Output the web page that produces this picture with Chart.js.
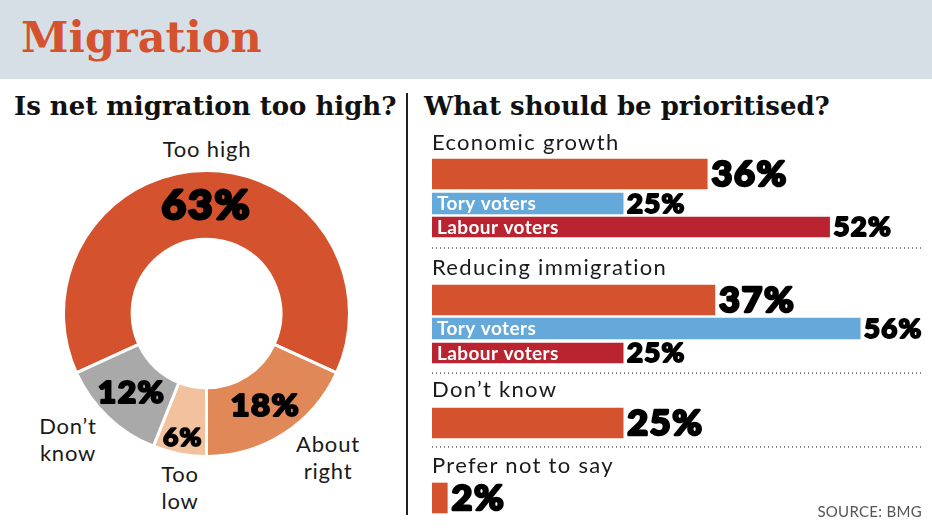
<!DOCTYPE html>
<html><head><meta charset="utf-8">
<script src="https://cdn.jsdelivr.net/npm/chart.js@4"></script>
<style>
html,body{margin:0;padding:0;background:#fff;}
#root{position:relative;width:932px;height:530px;overflow:hidden;font-family:Lato,"Open Sans",sans-serif;color:#111;}
.banner{position:absolute;left:0;top:0;width:932px;height:79px;background:#d6dfe6;}
.title{position:absolute;left:21px;top:16px;font-family:"DejaVu Serif",serif;font-weight:bold;font-size:43px;line-height:43px;color:#d4532e;white-space:nowrap;}
.sub{position:absolute;top:93px;font-family:"DejaVu Serif",serif;font-weight:bold;font-size:26px;line-height:26px;color:#111;white-space:nowrap;}
.divider{position:absolute;left:406px;top:93px;width:2px;height:422px;background:#222;}
.cat{position:absolute;left:432px;font-size:22px;line-height:22px;white-space:nowrap;letter-spacing:1.3px;color:#1a1a1a;}
.dots{position:absolute;left:432px;width:490px;height:2px;background-image:repeating-linear-gradient(to right,#888 0 1.5px,transparent 1.5px 4px);}
.dl{position:absolute;width:140px;text-align:center;font-size:22px;line-height:27px;letter-spacing:0.8px;color:#1a1a1a;}
.src{position:absolute;right:10px;top:504px;font-size:15px;line-height:15px;color:#555;letter-spacing:0.3px;}
#donut{position:absolute;left:62px;top:169px;}
#bars{position:absolute;left:410px;top:120px;}
</style></head>
<body>
<div id="root">
  <div class="banner"></div>
  <div class="title">Migration</div>
  <div class="sub" style="left:14px">Is net migration too high?</div>
  <div class="sub" style="left:424px">What should be prioritised?</div>
  <div class="divider"></div>

  <div class="dl" style="left:137px;top:135px;">Too high</div>
  <div class="dl" style="left:-2px;top:412px;">Don’t<br>know</div>
  <div class="dl" style="left:110px;top:460px;">Too<br>low</div>
  <div class="dl" style="left:258px;top:430px;">About<br>right</div>

  <canvas id="donut" width="289" height="289"></canvas>
  <canvas id="bars" width="522" height="400"></canvas>

  <div class="cat" style="top:131px">Economic growth</div>
  <div class="dots" style="top:247px"></div>
  <div class="cat" style="top:256px">Reducing immigration</div>
  <div class="dots" style="top:372px"></div>
  <div class="cat" style="top:378px">Don’t know</div>
  <div class="dots" style="top:446px"></div>
  <div class="cat" style="top:454px">Prefer not to say</div>
  <div class="src">SOURCE: BMG</div>
</div>
<script>
// ---- Data ----
const donutLabels = ['Too high', 'About right', 'Too low', "Don't know"];
const donutValues = [63, 18, 6, 12];

const priorityCategories = ['Economic growth', 'Reducing immigration', "Don't know", 'Prefer not to say'];
const allVoters = [36, 37, 25, 2];
const toryVoters = [25, 56, null, null];
const labourVoters = [52, 25, null, null];

// ---- Styles / layout ----
const donutColors = ['#d4532e', '#e08858', '#f2c29f', '#a9a9a9'];
const donutLabelSize = [40, 31, 25, 30];
const donutLabelRadial = [0.5, 0.5, 0.75, 0.5];
const HEAVY = 'Lato, Roboto, sans-serif';
const HEAVY_STRETCH = 1.06;
const CAP = 0.7165;

// vertical slot positions (row units on the hidden y scale)
const rowPos = {
  all:    [54, 180, 303, 378],
  tory:   [83.5, 208.5, null, null],
  labour: [107, 233, null, null]
};

Chart.defaults.animation = false;

function heavyText(ctx, text, x, y, fs, align) {
  ctx.save();
  ctx.font = `900 ${fs}px ${HEAVY}`;
  ctx.letterSpacing = (fs * 0.045).toFixed(1) + 'px';
  ctx.fillStyle = '#000';
  ctx.strokeStyle = '#000';
  ctx.lineJoin = 'round';
  ctx.lineWidth = fs * 0.07;
  ctx.textBaseline = 'alphabetic';
  ctx.textAlign = 'left';
  const w = ctx.measureText(text).width * HEAVY_STRETCH;
  const left = align === 'center' ? x - w / 2 : x + ctx.lineWidth / 2;
  ctx.translate(left, y + fs * CAP / 2);
  ctx.scale(HEAVY_STRETCH, 1);
  ctx.fillText(text, 0, 0);
  ctx.strokeText(text, 0, 0);
  ctx.restore();
}

// ---- Doughnut ----
const sum = donutValues.reduce((a, b) => a + b, 0);
const rotation = 180 - (donutValues[0] + donutValues[1]) / sum * 360;

const donutLabelPlugin = {
  id: 'donutLabels',
  afterDatasetsDraw(chart) {
    const ctx = chart.ctx;
    const meta = chart.getDatasetMeta(0);
    meta.data.forEach((arc, i) => {
      const p = arc.getProps(['x', 'y', 'startAngle', 'endAngle', 'innerRadius', 'outerRadius'], true);
      const mid = (p.startAngle + p.endAngle) / 2;
      const r = p.innerRadius + (p.outerRadius - p.innerRadius) * donutLabelRadial[i];
      const x = p.x + Math.cos(mid) * r;
      const y = p.y + Math.sin(mid) * r;
      heavyText(ctx, chart.data.datasets[0].data[i] + '%', x, y, donutLabelSize[i], 'center');
    });
  }
};

new Chart(document.getElementById('donut'), {
  type: 'doughnut',
  data: {
    labels: donutLabels,
    datasets: [{
      data: donutValues,
      backgroundColor: donutColors,
      borderColor: '#ffffff',
      borderWidth: 3,
      hoverOffset: 0
    }]
  },
  options: {
    responsive: false,
    cutout: '52%',
    rotation: rotation,
    events: [],
    layout: { padding: 0 },
    plugins: { legend: { display: false }, tooltip: { enabled: false } }
  },
  plugins: [donutLabelPlugin]
});

// ---- Bars ----
function pts(values, pos) {
  const out = [];
  values.forEach((v, i) => { if (v !== null) out.push({ x: v, y: pos[i] }); });
  return out;
}

const barLabelPlugin = {
  id: 'barLabels',
  afterDatasetsDraw(chart) {
    const ctx = chart.ctx;
    chart.data.datasets.forEach((ds, di) => {
      const meta = chart.getDatasetMeta(di);
      meta.data.forEach((bar, i) => {
        heavyText(ctx, ds.data[i].x + '%', bar.x + 3, bar.y, ds.valueSize, 'left');
        if (ds.inBar) {
          ctx.save();
          ctx.font = `bold 19px Lato, sans-serif`;
          ctx.letterSpacing = '0.4px';
          ctx.fillStyle = '#fff';
          ctx.textBaseline = 'alphabetic';
          ctx.fillText(ds.label, chart.chartArea.left + 5, bar.y + 19 * CAP / 2);
          ctx.restore();
        }
      });
    });
  }
};

new Chart(document.getElementById('bars'), {
  type: 'bar',
  data: {
    datasets: [
      { label: 'All voters', data: pts(allVoters, rowPos.all), backgroundColor: '#d4532e', barThickness: 30, grouped: false, valueSize: 34, inBar: false },
      { label: 'Tory voters', data: pts(toryVoters, rowPos.tory), backgroundColor: '#64a9da', barThickness: 21, grouped: false, valueSize: 26, inBar: true },
      { label: 'Labour voters', data: pts(labourVoters, rowPos.labour), backgroundColor: '#b92430', barThickness: 20, grouped: false, valueSize: 26, inBar: true }
    ]
  },
  options: {
    indexAxis: 'y',
    responsive: false,
    events: [],
    layout: { padding: { left: 22, right: 3, top: 0, bottom: 0 } },
    scales: {
      x: { type: 'linear', min: 0, max: 65, display: false, offset: false },
      y: { type: 'linear', min: 0, max: 400, reverse: true, display: false, offset: false }
    },
    plugins: { legend: { display: false }, tooltip: { enabled: false } }
  },
  plugins: [barLabelPlugin]
});
</script>
</body></html>
